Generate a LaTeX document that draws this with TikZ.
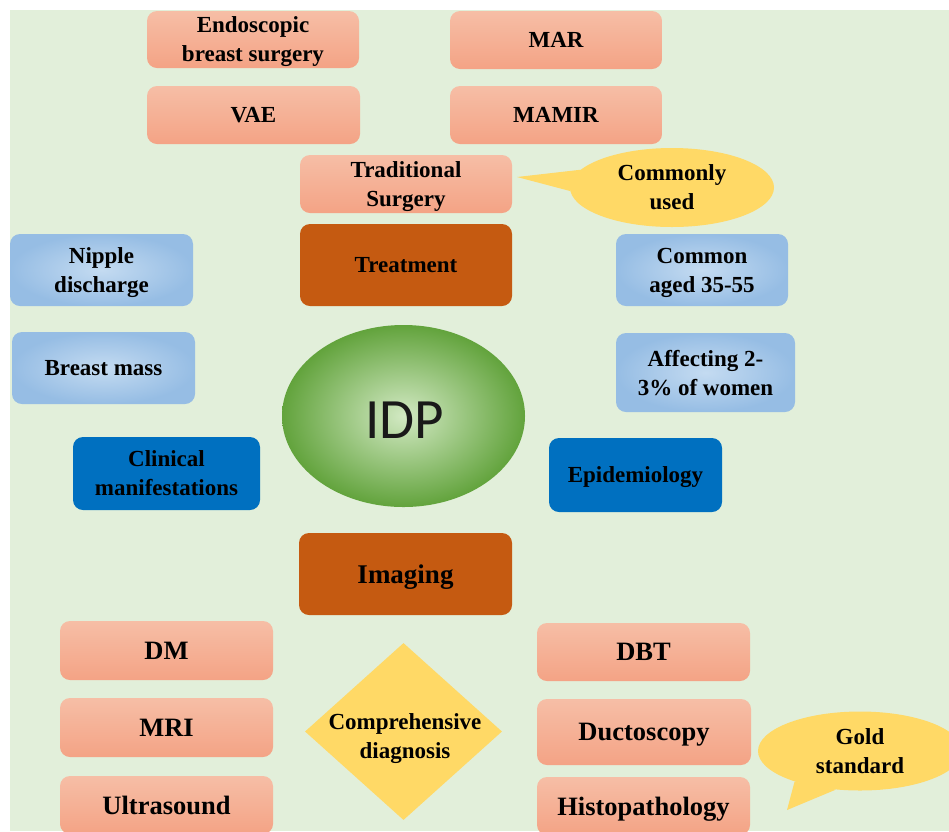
\documentclass[tikz,border=0pt]{standalone}
\usepackage{fontspec}
\setmainfont{Liberation Serif}
\newfontfamily\idpfont{Carlito}
\usetikzlibrary{shapes.geometric}
\definecolor{bg}{HTML}{E2EFDA}
\definecolor{salT}{HTML}{F6BEA6}
\definecolor{salB}{HTML}{F4A385}
\definecolor{dkor}{HTML}{C55A11}
\definecolor{dkbl}{HTML}{0070C0}
\definecolor{blIn}{HTML}{C4DBF1}
\definecolor{blOut}{HTML}{96BDE4}
\definecolor{yel}{HTML}{FFD966}
\definecolor{grIn}{HTML}{D2E9C3}
\definecolor{grOut}{HTML}{62A33C}
\begin{document}
\begin{tikzpicture}[x=1pt,y=-1pt,
  txt/.style={align=center, inner sep=0pt, text depth=0pt, font=\bfseries\fontsize{23}{29}\selectfont},
  box/.style={txt, rounded corners=10pt},
  salmon/.style={box, top color=salT, bottom color=salB},
  salbig/.style={salmon, font=\bfseries\fontsize{26.5}{30}\selectfont},
  orbox/.style={box, fill=dkor},
  lblue/.style={box, inner color=blIn, outer color=blOut},
  dblue/.style={box, fill=dkbl},
  callout/.style={ellipse, txt, fill=yel, minimum width=204pt, minimum height=79pt},
  sz/.style n args={2}{minimum width=#1pt, minimum height=#2pt}
]
\useasboundingbox (0,0) rectangle (949,831);
\clip (0,0) rectangle (949,831);
\fill[bg] (10,10) rectangle (949,831);

% treatment branch
\node[salmon, sz={212}{57}] (endo) at (253,39.5) {Endoscopic\\breast surgery};
\node[salmon, sz={213}{58}] (vae) at (253.5,115) {VAE};
\node[salmon, sz={212}{58}] (mar) at (556,40) {MAR};
\node[salmon, sz={212}{58}] (mamir) at (556,115) {MAMIR};
\node[salmon, sz={212}{58}] (trad) at (406,184) {Traditional\\Surgery};
\node[orbox, sz={212}{82}] (treat) at (406,265) {Treatment};

% callout commonly used
\node[callout] (cu) at (672,187.5) {Commonly\\used};
\coordinate (cutip) at (517,177);
\fill[yel] (cu.169) -- (cutip) -- (cu.182) -- cycle;

% clinical
\node[lblue, sz={183}{72}] (nip) at (101.5,270) {Nipple\\discharge};
\node[lblue, sz={183}{72}] (bm) at (103.5,368) {Breast mass};
\node[dblue, sz={187}{73}] (clin) at (166.5,473.5) {Clinical\\manifestations};

% epidemiology
\node[lblue, sz={172}{72}] (age) at (702,270) {Common\\aged 35-55};
\node[lblue, sz={179}{79}] (aff) at (705.5,372.5) {Affecting 2-\\3\% of women};
\node[dblue, sz={173}{74}] (epi) at (635.5,475) {Epidemiology};

% center
\node[ellipse, inner sep=0pt, minimum width=243pt, minimum height=182pt,
      inner color=grIn, outer color=grOut] (idp) at (403.5,416) {};
\node[inner sep=0pt, font=\idpfont\fontsize{57}{60}\selectfont, text=black!90] (idpt) at (404.5,420) {IDP};

% imaging
\node[orbox, sz={213}{82}, font=\bfseries\fontsize{27}{30}\selectfont] (img) at (405.5,574) {Imaging};
\node[salbig, sz={213}{59}] (dm) at (166.5,650.5) {DM};
\node[salbig, sz={213}{59}] (mri) at (166.5,727.5) {MRI};
\node[salbig, sz={213}{58}] (us) at (166.5,805) {Ultrasound};
\node[salbig, sz={213}{58}] (dbt) at (643.5,652) {DBT};
\node[salbig, sz={214}{66}] (duct) at (644,732) {Ductoscopy};
\node[salbig, sz={213}{58}] (histo) at (643.5,806) {Histopathology};

\node[diamond, fill=yel, inner sep=0pt, minimum width=197pt, minimum height=177pt] (cd) at (403.5,731.5) {};
\node[txt] (cdt) at (405,736) {Comprehensive\\diagnosis};

% callout gold standard
\node[callout] (gs) at (860,751) {Gold\\standard};
\coordinate (gstip) at (787,810);
\fill[yel] (gs.205) -- (gstip) -- (gs.238) -- cycle;
\end{tikzpicture}
\end{document}
